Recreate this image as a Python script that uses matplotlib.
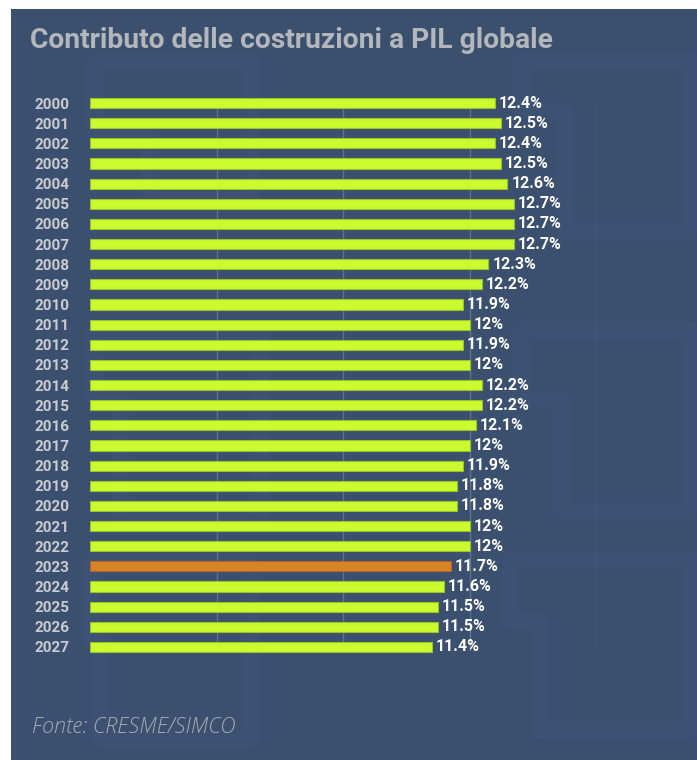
import matplotlib.pyplot as plt
from matplotlib.patches import Rectangle, Polygon

years = [str(y) for y in range(2000, 2028)]
values = [12.4, 12.5, 12.4, 12.5, 12.6, 12.7, 12.7, 12.7, 12.3, 12.2,
          11.9, 12.0, 11.9, 12.0, 12.2, 12.2, 12.1, 12.0, 11.9, 11.8,
          11.8, 12.0, 12.0, 11.7, 11.6, 11.5, 11.5, 11.4]
labels = ["12.4%", "12.5%", "12.4%", "12.5%", "12.6%", "12.7%", "12.7%",
          "12.7%", "12.3%", "12.2%", "11.9%", "12%", "11.9%", "12%",
          "12.2%", "12.2%", "12.1%", "12%", "11.9%", "11.8%", "11.8%",
          "12%", "12%", "11.7%", "11.6%", "11.5%", "11.5%", "11.4%"]
highlight = "2023"
grid_ticks = [8, 10, 12, 14]
x_start = 6

BG = "#3b4f6e"
LIME = "#c9fb2f"
ORANGE = "#d98326"

W, H = 697, 760
fig = plt.figure(figsize=(W / 100, H / 100), dpi=100, facecolor="white")

# dark panel
panel = Rectangle((11 / W, 0), 1 - 11 / W, 1 - 9 / H, transform=fig.transFigure,
                  facecolor=BG, edgecolor="none", zorder=-2)
fig.patches.append(panel)

# faint watermark shapes in the background
wm = "#42577a"
shapes = [
    [(95, 60), (250, 60), (250, 200), (150, 200), (150, 130), (95, 130)],
    [(520, 60), (690, 60), (690, 230), (565, 230), (565, 110), (520, 110)],
    [(95, 330), (260, 330), (260, 520), (120, 520), (120, 400), (95, 400)],
    [(520, 330), (690, 330), (690, 510), (560, 510), (560, 400), (520, 400)],
    [(90, 560), (250, 560), (250, 740), (100, 740), (100, 640), (90, 640)],
    [(510, 560), (690, 560), (690, 730), (540, 730), (540, 620), (510, 620)],
]
for pts in shapes:
    poly = Polygon([(x / W, 1 - y / H) for x, y in pts], closed=True,
                   transform=fig.transFigure, facecolor="none",
                   edgecolor=wm, linewidth=12, alpha=0.4, zorder=-1,
                   joinstyle="round")
    fig.patches.append(poly)

ax = fig.add_axes([90 / W, 103 / H, (596 - 90) / W, 564 / H])
ax.set_zorder(1)
ax.set_facecolor("none")

ypos = list(range(len(years)))
colors = [ORANGE if y == highlight else LIME for y in years]
edges = ["#b0662a" if y == highlight else "#9cc22a" for y in years]
widths = [v - x_start for v in values]
ax.barh(ypos, widths, left=x_start, height=0.5, color=colors,
        edgecolor=edges, linewidth=0.8, zorder=3)

for g in grid_ticks:
    ax.axvline(g, ymin=0.012, ymax=0.988, color="#5f7290", linewidth=1, zorder=1)

for y, v, lab in zip(ypos, values, labels):
    ax.text(v + 0.06, y, lab, ha="left", va="center", color="white",
            fontsize=11.5, fontweight="bold", family="Roboto", zorder=4)

ax.set_xlim(x_start, 14)
ax.set_ylim(len(years) - 0.5, -0.5)
ax.set_yticks(ypos)
ax.set_yticklabels(years, fontsize=11, fontweight="bold", family="Roboto",
                   color="#c9ccd1")
ax.set_xticks([])
ax.tick_params(axis="y", length=0, pad=15)
for s in ax.spines.values():
    s.set_visible(False)

fig.text(30 / W, 1 - 40 / H, "Contributo delle costruzioni a PIL globale",
         ha="left", va="center", color="#b3b6ba", fontsize=20.3,
         fontweight="bold", family="Roboto")
fig.text(32 / W, 1 - 727 / H, "Fonte: CRESME/SIMCO", ha="left", va="center",
         color="#a4acb8", fontsize=15.5, style="italic", family="Open Sans",
         fontweight="light")

fig.savefig("out.png", dpi=100, facecolor="white")
